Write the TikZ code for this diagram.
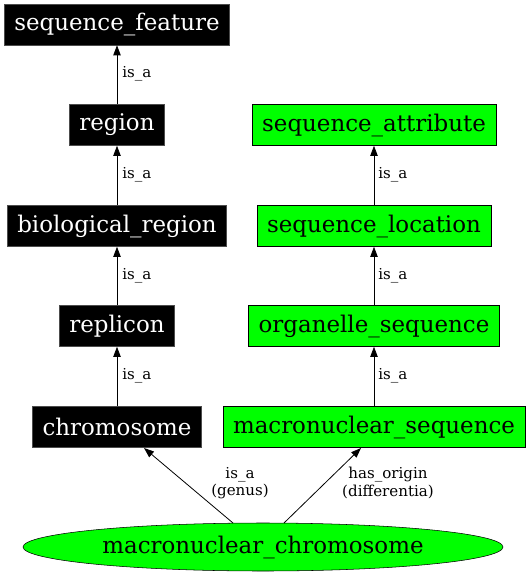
\documentclass[tikz,border=0pt]{standalone}
\usepackage{fontspec}
\setmainfont{DejaVu Serif}
\usetikzlibrary{arrows.meta,shapes.geometric}
\definecolor{ggreen}{RGB}{0,255,0}
\tikzset{
  blk/.style={rectangle,draw=black!70,fill=black,text=white,font=\fontsize{17.2}{19}\selectfont,minimum height=30.75pt,inner xsep=7.5pt,inner ysep=0pt},
  grn/.style={rectangle,draw=black,fill=ggreen,text=black,font=\fontsize{17.2}{19}\selectfont,minimum height=30.75pt,inner xsep=7.5pt,inner ysep=0pt},
  lbl/.style={font=\fontsize{11.3}{13}\selectfont,inner sep=0pt,align=center},
  arr/.style={draw=black,line width=0.6pt,-{Triangle[length=7.5pt,width=5.5pt]}}
}
\begin{document}
\begin{tikzpicture}[x=0.75pt,y=-0.75pt]
\useasboundingbox (0,0) rectangle (529,576);
\node[blk] (sf) at (117,24.5) {sequence\_feature};
\node[blk] (rg) at (117,125) {region};
\node[blk] (br) at (117,226) {biological\_region};
\node[blk] (rp) at (117,326) {replicon};
\node[blk] (ch) at (117,427) {chromosome};
\node[grn] (sa) at (374,125) {sequence\_attribute};
\node[grn] (sl) at (374,226) {sequence\_location};
\node[grn] (os) at (374,326) {organelle\_sequence};
\node[grn] (ms) at (374,427) {macronuclear\_sequence};
\node[ellipse,draw=black,fill=ggreen,minimum width=360pt,minimum height=36pt,inner sep=0pt,font=\fontsize{17.2}{19}\selectfont] (mc) at (263,547) {macronuclear\_chromosome};
\draw[arr] (rg) -- (sf);
\draw[arr] (br) -- (rg);
\draw[arr] (rp) -- (br);
\draw[arr] (ch) -- (rp);
\draw[arr] (sl) -- (sa);
\draw[arr] (os) -- (sl);
\draw[arr] (ms) -- (os);
\coordinate (s1) at (233,523);
\coordinate (t1) at (144,448);
\coordinate (s2) at (284,523);
\coordinate (t2) at (361,448);
\draw[arr] (s1) -- (t1);
\draw[arr] (s2) -- (t2);
\node[lbl,anchor=west] (l1) at (122,74) {is\_a};
\node[lbl,anchor=west] (l2) at (122,175) {is\_a};
\node[lbl,anchor=west] (l3) at (122,276) {is\_a};
\node[lbl,anchor=west] (l4) at (122,376) {is\_a};
\node[lbl,anchor=west] (l5) at (378,175) {is\_a};
\node[lbl,anchor=west] (l6) at (378,276) {is\_a};
\node[lbl,anchor=west] (l7) at (378,376) {is\_a};
\node[lbl] (l8) at (240,483) {is\_a\\(genus)};
\node[lbl] (l9) at (388,483) {has\_origin\\(differentia)};
\end{tikzpicture}
\end{document}
